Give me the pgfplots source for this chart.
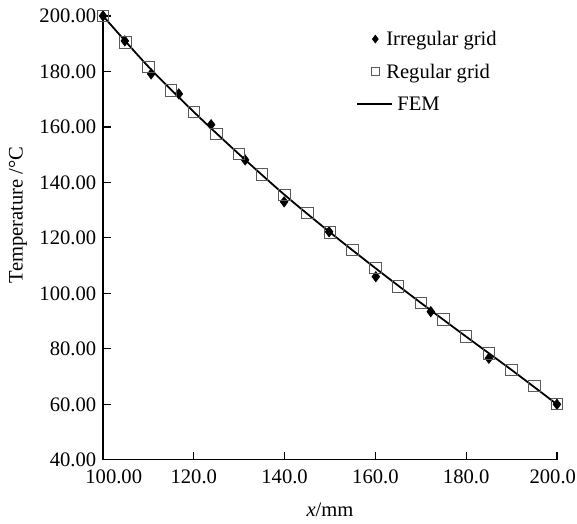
\documentclass[border=0pt]{standalone}
\usepackage{fontspec}
\setmainfont{Liberation Serif}
\usepackage{pgfplots}
\pgfplotsset{compat=1.18}
\pgfplotsset{
  legmark/.style={legend image code/.code={\draw[mark repeat=2, mark phase=2, ##1, mark size=2.9pt] plot coordinates {(0pt,0pt) (4pt,0pt) (12pt,0pt)};}},
  legline/.style={legend image code/.code={\path[draw=none] (0pt,0pt) -- (12pt,0pt);\draw[##1, overlay] (-9pt,0pt) -- (16pt,0pt);}},
}
\begin{document}
\begin{tikzpicture}
\begin{axis}[
  scale only axis,
  width=330.4pt, height=323.1pt,
  xmin=100, xmax=200, ymin=40, ymax=200,
  axis x line=bottom, axis y line=left,
  axis line style={line width=0.9pt,-},
  tick style={line width=0.9pt,black},
  tick align=inside,
  major tick length=6pt,
  font=\fontsize{15}{18}\selectfont,
  xtick={100,120,140,160,180,200},
  xticklabels={\hspace*{15.6pt}100.00,120.0,140.0,160.0,180.0,200.0\hspace*{6pt}},
  ytick={40,60,80,100,120,140,160,180,200},
  yticklabel style={xshift=-1.5pt, /pgf/number format/.cd, fixed, fixed zerofill, precision=2, assume math mode=true},
  xticklabel style={yshift=-3.5pt},
  every axis x label/.style={at={(axis description cs:0.5,0)}, anchor=center, yshift=-36.4pt},
  every axis y label/.style={at={(axis description cs:0,0.552)}, anchor=center, xshift=-62pt, rotate=90},
  xlabel={\textit{x}/mm},
  ylabel={Temperature /\textdegree C},
  clip=false,
  legend style={draw=none, fill=none, at={(194pt,312.4pt)}, anchor=north west,
    inner sep=0pt, row sep=12pt, column sep=0pt, cells={anchor=west},
    nodes={inner sep=0pt}},
  legend cell align=left,
]
\coordinate (sw) at (rel axis cs:0,0);
\coordinate (ne) at (rel axis cs:1,1);
% irregular grid
\addplot[only marks, mark=diamond*, mark size=3.8pt, black, legmark] coordinates {
  (100,200) (104.8,191.0) (110.6,179.1) (116.7,171.9) (123.8,160.8)
  (131.3,148.1) (139.9,133.0) (149.8,122.2) (160.1,106.0) (172.2,93.4)
  (185.0,76.6) (200,60)
};
% regular grid
\addplot[only marks, mark=square, mark size=4.2pt, black!65, mark options={line width=0.7pt}, legmark] coordinates {
  (100,200) (105,190.4) (110,181.6) (115,173.2) (120,165.4) (125,157.5)
  (130,150.2) (135,142.8) (140,135.5) (145,129.0) (150,122.0) (155,115.6)
  (160,109.1) (165,102.4) (170,96.6) (175,90.5) (180,84.4) (185,78.3)
  (190,72.4) (195,66.6) (200,60.1)
};
% FEM solution
\addplot[black, line width=1.3pt, smooth, legline] coordinates {
  (100,200) (110,181.7) (120,165.4) (130,150.1) (140,135.5) (150,122.0)
  (160,109.1) (170,96.6) (180,84.4) (190,72.4) (200,60.0)
};
\legend{Irregular grid,Regular grid,\hspace*{8pt}FEM}
\end{axis}
\pgfresetboundingbox
\path ([shift={(-75pt,-46.6pt)}]sw) rectangle ([shift={(14.6pt,11.6pt)}]ne);
\end{tikzpicture}
\end{document}
